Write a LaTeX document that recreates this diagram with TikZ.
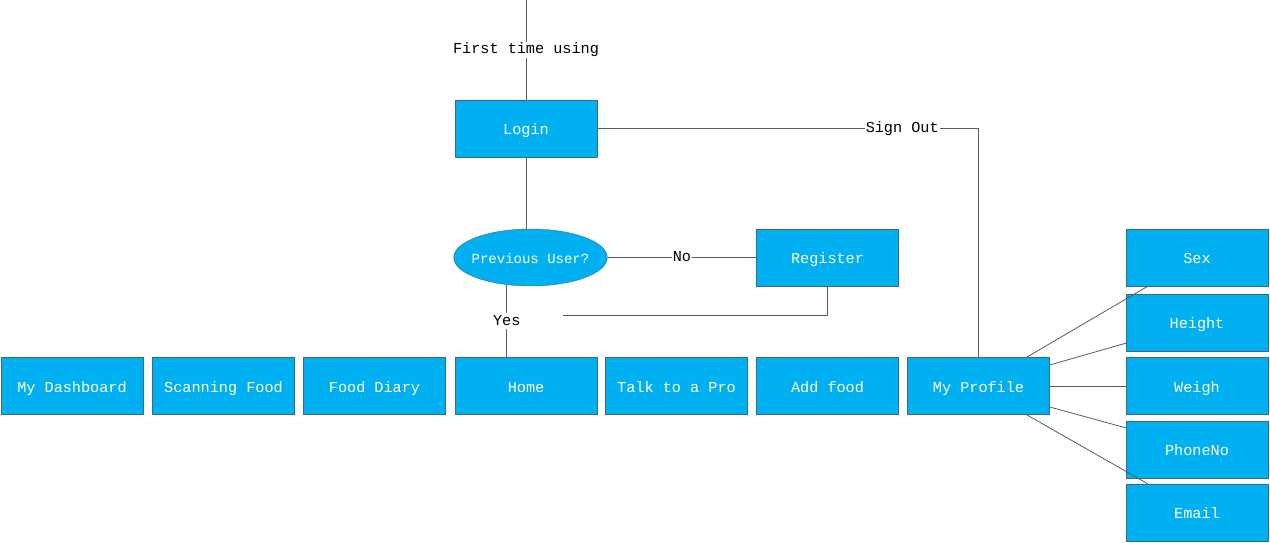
\documentclass[tikz,border=0pt]{standalone}
\usepackage{fontspec}
\setmainfont{Liberation Mono}
\usetikzlibrary{shapes.geometric}
\definecolor{boxfill}{HTML}{00B0F0}
\definecolor{boxline}{HTML}{3A6A88}
\definecolor{conn}{HTML}{5A5A5A}
\tikzset{
  box/.style={rectangle, draw=boxline, fill=boxfill, text=white, minimum width=142pt, minimum height=57pt, inner sep=0pt, text height=12pt, text depth=0pt, font=\fontsize{15.2}{18}\selectfont},
  decision/.style={ellipse, draw=boxline, fill=boxfill, text=white, minimum width=151pt, minimum height=57pt, inner ysep=0pt, inner xsep=-4.5pt, text height=11pt, text depth=0pt, font=\fontsize{14}{16}\selectfont},
  conn/.style={draw=conn, line width=0.8pt},
  lbl/.style={fill=white, inner sep=1pt, text=black, text height=11pt, text depth=3pt, font=\fontsize{15.2}{18}\selectfont}
}
\begin{document}
\begin{tikzpicture}[x=1pt,y=-1pt]
\useasboundingbox (0,0) rectangle (1270,542);
\node[box] (login) at (526,128.5) {Login};
\node[decision] (prev) at (530.5,257.5) {Previous User?};
\node[box] (register) at (827.5,257.5) {Register};
\node[box] (dash) at (72,386) {My Dashboard};
\node[box] (scan) at (223.5,386) {Scanning Food};
\node[box] (diary) at (374.5,386) {Food Diary};
\node[box] (home) at (526,386) {Home};
\node[box] (pro) at (676.5,386) {Talk to a Pro};
\node[box] (add) at (827.5,386) {Add food};
\node[box] (profile) at (978.5,386) {My Profile};
\node[box] (sex) at (1197,257.5) {Sex};
\node[box] (height) at (1197,322.5) {Height};
\node[box] (weigh) at (1197,386) {Weigh};
\node[box] (phone) at (1197,449.5) {PhoneNo};
\node[box] (email) at (1197,512.5) {Email};
\coordinate (top) at (526,0);
\coordinate (regend) at (563,315);
\draw[conn] (top) -- node[lbl, pos=0.5] {First time using} (login.north);
\draw[conn] (login.south) -- (login.south |- prev.north);
\draw[conn] (login.east) -| node[lbl, pos=0.4] {Sign Out} (profile.north);
\draw[conn] (prev.east) -- node[lbl] {No} (register.west);
\draw[conn] (prev.229) -- node[lbl] {Yes} (prev.229 |- home.north);
\draw[conn] (register.south) |- (regend);
\draw[conn] ([xshift=48pt]profile.north) -- ([xshift=22pt]sex.south west);
\draw[conn] ([yshift=21pt]profile.east) -- ([yshift=8pt]height.south west);
\draw[conn] (profile.east) -- (weigh.west);
\draw[conn] ([yshift=-21pt]profile.east) -- ([yshift=-7pt]phone.north west);
\draw[conn] ([xshift=48pt]profile.south) -- ([xshift=22pt]email.north west);
\end{tikzpicture}
\end{document}
